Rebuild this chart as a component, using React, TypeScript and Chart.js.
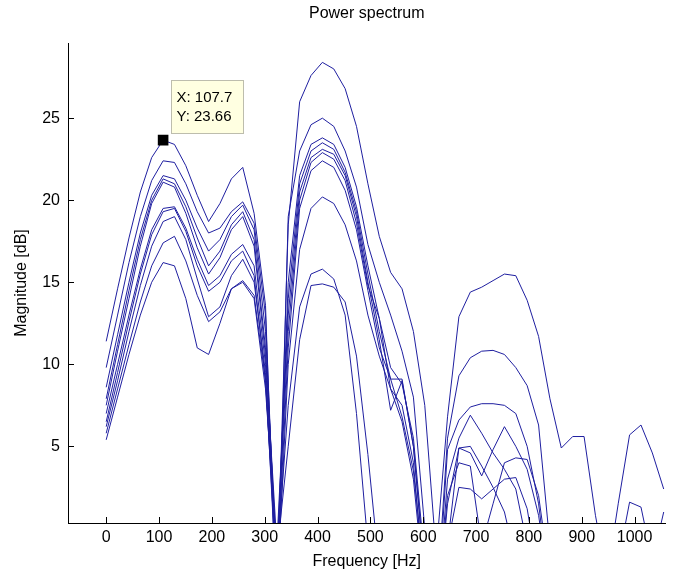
import React, { useEffect, useRef } from "react";
import { Chart, registerables } from "chart.js";

Chart.register(...registerables);

// Frequency bins [Hz]
const freqs = [
  0, 21.5, 43.1, 64.6, 86.1, 107.7, 129.2, 150.7, 172.3, 193.8,
  215.3, 236.9, 258.4, 279.9, 301.5, 323.0, 344.5, 366.1, 387.6, 409.1,
  430.7, 452.2, 473.7, 495.3, 516.8, 538.3, 559.9, 581.4, 602.9, 624.5,
  646.0, 667.5, 689.1, 710.6, 732.1, 753.7, 775.2, 796.7, 818.3, 839.8,
  861.3, 882.9, 904.4, 925.9, 947.5, 969.0, 990.5, 1012.1, 1033.6, 1055.1,
];

// Magnitude [dB] for each recording
const s0 = [
  9.8, 13.0, 16.2, 19.0, 21.2, 22.4, 22.3, 21.0, 19.3, 18.0,
  18.3, 19.3, 19.9, 18.6, 13.0, -4.0, 18.5, 26.0, 27.6, 28.4,
  28.0, 26.8, 24.5, 21.0, 17.8, 15.6, 14.6, 12.0, 7.5, -1.5,
  6.8, 12.9, 14.4, 14.7, 15.1, 15.5, 15.4, 13.9, 11.7, 7.9,
  4.9, 5.6, 5.6, 0.8, -3.0, 1.5, 5.7, 6.3, 4.6, 2.4,
];
const s1 = [
  11.4, 14.6, 17.7, 20.5, 22.6, 23.66, 23.4, 22.1, 20.3, 18.7,
  19.8, 21.3, 22.0, 19.2, 13.6, -6.0, 19.0, 23.0, 24.6, 25.0,
  24.5, 23.0, 20.8, 17.3, 15.0, 13.0, 10.8, 8.0, 0.0, -5.0,
  5.5, 9.3, 10.4, 10.8, 10.85, 10.6, 9.8, 8.7, 6.3, -1.0,
  -8, -8, -8, -8, -8, -8, -8, -8, -8, -8,
];
const s2 = [
  8.6, 11.8, 15.0, 18.0, 20.3, 21.5, 21.3, 20.0, 18.3, 16.9,
  17.6, 19.0, 19.7, 18.2, 12.0, -3.0, 15.0, 21.5, 23.4, 23.8,
  23.4, 22.0, 19.6, 16.0, 12.8, 9.8, 8.8, 5.5, -2.0, -6.0,
  4.8, 6.6, 7.4, 7.6, 7.6, 7.5, 7.0, 5.0, 1.5, -4.0,
  -8, -8, -8, -8, -8, -8, -8, -8, -8, -8,
];
const s3 = [
  7.9, 11.2, 14.5, 17.6, 20.0, 21.3, 21.0, 19.6, 17.7, 16.0,
  16.9, 18.5, 19.3, 17.6, 11.0, -2.0, 14.0, 21.0, 23.0, 23.5,
  23.1, 21.7, 19.3, 15.5, 12.0, 9.1, 9.1, 5.0, -3.0, -6.0,
  3.0, 5.5, 6.9, 5.8, 4.6, 3.6, 2.4, -1.0, -8, -8,
  -8, -8, -8, -8, -8, -8, -8, -8, -8, -8,
];
const s4 = [
  7.5, 10.8, 14.0, 17.2, 19.8, 21.1, 20.8, 19.2, 17.1, 15.5,
  16.5, 18.2, 19.0, 17.2, 10.5, -1.0, 13.0, 20.5, 22.6, 23.1,
  22.8, 21.5, 19.0, 15.0, 11.5, 7.2, 9.0, 5.0, -2.5, -6.0,
  2.0, 4.0, 3.8, -1.0, 1.5, 4.0, 4.3, 4.2, 2.0, -3.0,
  -8, -8, -8, -8, -8, -8, -8, -8, -8, -8,
];
const s5 = [
  7.0, 10.0, 13.0, 15.8, 18.2, 19.5, 19.6, 18.3, 16.4, 14.8,
  15.4, 16.7, 17.3, 16.0, 10.0, -2.0, 12.0, 20.0, 22.3, 22.9,
  22.5, 21.2, 18.6, 14.8, 12.8, 8.5, 7.5, 4.0, -4.0, -6.0,
  1.5, 4.9, 4.6, 3.2, 4.8, 6.2, 5.0, 3.6, 0.8, -4.0,
  -8, -8, -8, -8, -8, -8, -8, -8, -8, -8,
];
const s6 = [
  6.5, 9.5, 12.6, 15.5, 17.9, 19.3, 19.5, 18.1, 16.0, 14.45,
  15.0, 16.3, 16.9, 15.4, 9.0, -3.0, 11.0, 19.5, 21.8, 22.4,
  22.0, 20.6, 18.2, 14.5, 11.0, 9.1, 6.8, 3.5, -3.0, -6.0,
  -1.0, 2.5, 2.4, 1.8, 2.4, 3.0, 3.1, 1.2, -3.0, -8,
  -8, -8, -8, -8, -8, -8, -8, -8, -8, -8,
];
const s7 = [
  6.2, 9.0, 12.0, 14.8, 17.2, 18.7, 19.0, 17.6, 15.2, 12.9,
  13.5, 15.4, 16.4, 15.0, 9.5, -4.0, 10.0, 17.0, 19.5, 20.2,
  19.8, 18.5, 16.3, 13.0, 10.5, 8.5, 6.5, 3.0, -4.0, -7.0,
  -1.0, 4.9, 5.0, 3.8, 2.5, 1.0, -2.0, -8, -8, -8,
  -8, -8, -8, -8, -8, -8, -8, -8, -8, -8,
];
const s8 = [
  5.8, 8.5, 11.2, 13.8, 16.0, 17.4, 17.8, 16.3, 14.2, 12.6,
  13.2, 14.6, 15.1, 14.2, 9.0, -2.0, 7.5, 13.5, 15.5, 15.8,
  15.2, 13.0, 7.0, -1.0, -8, -8, -8, -8, -8, -8,
  -8, -8, -8, -8, -8, -8, -8, -8, -8, -8,
  -8, -8, -8, -8, -8, -2.0, 1.6, 1.3, -2.0, -8,
];
const s9 = [
  5.4, 8.0, 10.6, 13.0, 15.0, 16.2, 16.0, 14.0, 11.0, 10.6,
  12.5, 14.6, 15.0, 14.0, 8.5, -1.5, 5.0, 11.5, 14.8, 14.9,
  14.7, 13.8, 10.5, 4.5, -2.5, -8, -8, -8, -8, -8,
  -8, -8, -8, -8, -8, -8, -8, -8, -8, -8,
  -8, -8, -8, -8, -8, -8, -8, -8, -2.0, 1.0,
];
const seriesList = [s0, s1, s2, s3, s4, s5, s6, s7, s8, s9];

const xTicks = [0, 100, 200, 300, 400, 500, 600, 700, 800, 900, 1000];
const yTicks = [5, 10, 15, 20, 25];
const xMin = -72.3;
const xMax = 1058.5;
const yMin = 0.33;
const yMax = 29.58;

const tipX = 107.7;
const tipY = 23.66;
const tipLines = ["X: 107.7", "Y: 23.66"];

const titleText = "Power spectrum";
const xLabel = "Frequency [Hz]";
const yLabel = "Magnitude [dB]";

const LINE = "#1f1fa0";
const FONT = "'Liberation Sans', Arial, sans-serif";

const decorPlugin = {
  id: "decor",
  afterDatasetsDraw(chart: any) {
    const { ctx, chartArea, scales } = chart;
    const xs = scales.x;
    const ys = scales.y;
    ctx.save();
    // inward ticks
    ctx.strokeStyle = "#000";
    ctx.lineWidth = 1;
    ctx.beginPath();
    xTicks.forEach((v) => {
      const px = Math.round(xs.getPixelForValue(v)) + 0.5;
      ctx.moveTo(px, chartArea.bottom);
      ctx.lineTo(px, chartArea.bottom - 6);
    });
    yTicks.forEach((v) => {
      const py = Math.round(ys.getPixelForValue(v)) + 0.5;
      ctx.moveTo(chartArea.left, py);
      ctx.lineTo(chartArea.left + 6, py);
    });
    ctx.stroke();

    // data tip box
    const px = xs.getPixelForValue(tipX);
    const py = ys.getPixelForValue(tipY);
    const bx = Math.round(px + 8) + 0.5;
    const by = Math.round(py - 60) + 0.5;
    ctx.fillStyle = "#ffffe1";
    ctx.strokeStyle = "#bdbdad";
    ctx.fillRect(bx, by, 72, 53);
    ctx.strokeRect(bx, by, 72, 53);
    ctx.fillStyle = "#000";
    ctx.font = `15px ${FONT}`;
    ctx.textAlign = "left";
    ctx.textBaseline = "middle";
    ctx.fillText(tipLines[0], bx + 5, by + 17);
    ctx.fillText(tipLines[1], bx + 5, by + 36);

    // titles
    const cx = (chartArea.left + chartArea.right) / 2;
    const cy = (chartArea.top + chartArea.bottom) / 2;
    ctx.textAlign = "center";
    ctx.font = `16px ${FONT}`;
    ctx.fillText(titleText, cx, 14);
    ctx.fillText(xLabel, cx, 562);
    ctx.translate(22, cy);
    ctx.rotate(-Math.PI / 2);
    ctx.fillText(yLabel, 0, 0);
    ctx.restore();
  },
};

export default function App() {
  const ref = useRef<HTMLCanvasElement>(null);
  useEffect(() => {
    document.body.style.margin = "0";
    const canvas = ref.current;
    if (!canvas) return;
    const datasets: any[] = seriesList.map((s) => ({
      type: "line",
      data: freqs.map((f, i) => ({ x: f, y: s[i] })),
      borderColor: LINE,
      borderWidth: 1,
      pointRadius: 0,
      fill: false,
      tension: 0,
    }));
    datasets.push({
      type: "scatter",
      data: [{ x: tipX, y: tipY }],
      pointStyle: "rect",
      pointRadius: 7.5,
      backgroundColor: "#000",
      borderColor: "#000",
      borderWidth: 0,
      order: -1,
    });
    const chart = new Chart(canvas, {
      type: "line",
      data: { datasets },
      options: {
        animation: false,
        responsive: false,
        devicePixelRatio: 1,
        layout: { padding: { top: 43, right: 0, left: 0, bottom: 0 } },
        plugins: {
          legend: { display: false },
          tooltip: { enabled: false },
          title: { display: false },
        },
        scales: {
          x: {
            type: "linear",
            min: xMin,
            max: xMax,
            afterBuildTicks: (s: any) => {
              s.ticks = xTicks.map((v) => ({ value: v }));
            },
            afterFit: (s: any) => {
              s.height = 52;
            },
            grid: { display: false, drawTicks: false },
            border: { display: true, color: "#000", width: 1 },
            ticks: {
              color: "#000",
              font: { family: FONT, size: 16 },
              padding: 5,
              maxRotation: 0,
              autoSkip: false,
              callback: (v: any) => String(v),
            },
          },
          y: {
            type: "linear",
            min: yMin,
            max: yMax,
            afterBuildTicks: (s: any) => {
              s.ticks = yTicks.map((v) => ({ value: v }));
            },
            afterFit: (s: any) => {
              s.width = 68;
            },
            grid: { display: false, drawTicks: false },
            border: { display: true, color: "#000", width: 1 },
            ticks: {
              color: "#000",
              font: { family: FONT, size: 16 },
              padding: 8,
              autoSkip: false,
              callback: (v: any) => String(v),
            },
          },
        },
      } as any,
      plugins: [decorPlugin],
    });
    return () => chart.destroy();
  }, []);
  return (
    <div style={{ width: 673, height: 575 }}>
      <canvas ref={ref} width={673} height={575} />
    </div>
  );
}
